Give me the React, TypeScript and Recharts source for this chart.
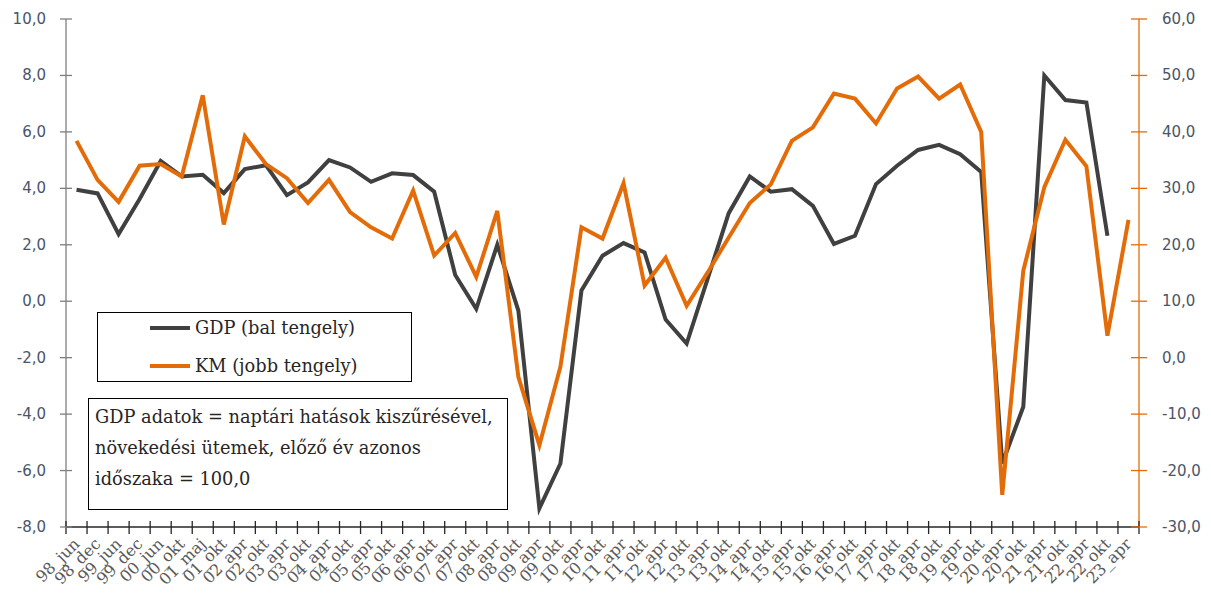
import React from 'react';
import { LineChart, Line, XAxis, YAxis } from 'recharts';

const labels = [
  '98_jun', '98_dec', '99_jun', '99_dec', '00_jun', '00_okt', '01_maj', '01_okt',
  '02_apr', '02_okt', '03_apr', '03_okt', '04_apr', '04_okt', '05_apr', '05_okt',
  '06_apr', '06_okt', '07_apr', '07_okt', '08_apr', '08_okt', '09_apr', '09_okt',
  '10_apr', '10_okt', '11_apr', '11_okt', '12_apr', '12_okt', '13_apr', '13_okt',
  '14_apr', '14_okt', '15_apr', '15_okt', '16_apr', '16_okt', '17_apr', '17_okt',
  '18_apr', '18_okt', '19_apr', '19_okt', '20_apr', '20_okt', '21_apr', '21_okt',
  '22_apr', '22_okt', '23_apr',
];

// GDP, left axis
const gdp: (number | null)[] = [
  3.95, 3.82, 2.38, 3.62, 4.97, 4.42, 4.48, 3.83, 4.68, 4.82, 3.76, 4.21, 5.0,
  4.74, 4.23, 4.53, 4.47, 3.88, 0.93, -0.27, 2.0, -0.33, -7.34, -5.75, 0.38, 1.61,
  2.06, 1.73, -0.65, -1.5, 0.8, 3.12, 4.42, 3.88, 3.97, 3.38, 2.03, 2.32, 4.15,
  4.8, 5.36, 5.54, 5.21, 4.58, -5.75, -3.74, 8.0, 7.13, 7.04, 2.32, null,
];

// KM, right axis
const km = [
  38.4, 31.5, 27.6, 34.0, 34.3, 32.1, 46.5, 23.6, 39.2, 34.3, 31.8, 27.4, 31.5,
  25.8, 23.1, 21.1, 29.6, 18.1, 22.1, 14.3, 26.0, -3.4, -15.5, -1.6, 23.1, 21.1,
  30.9, 12.8, 17.7, 9.2, 15.1, 21.3, 27.4, 30.7, 38.4, 40.8, 46.8, 45.9, 41.5,
  47.7, 49.8, 45.9, 48.4, 40.0, -24.3, 15.4, 30.2, 38.6, 33.9, 3.9, 24.4,
];

const leftTicks = [-8, -6, -4, -2, 0, 2, 4, 6, 8, 10];
const rightTicks = [-30, -20, -10, 0, 10, 20, 30, 40, 50, 60];

const noteLines = [
  'GDP adatok = naptári hatások kiszűrésével,',
  'növekedési ütemek, előző év azonos',
  'időszaka = 100,0',
];

const data = labels.map((label, i) => ({ label, gdp: gdp[i], km: km[i] }));

const W = 1211;
const H = 604;
const TOP = 19;
const LEFT_W = 66;
const RIGHT_W = 72;
const X_H = 77;
const PLOT_W = W - LEFT_W - RIGHT_W;
const BAND = PLOT_W / labels.length;

const GREY = '#404040';
const ORANGE = '#E36C09';
const AXIS_TEXT = '#4A5568';
const SERIF = '"DejaVu Serif", serif';

const fmt = (v: number) => v.toFixed(1).replace('.', ',');

const LeftTick = ({ x, y, payload }: any) => (
  <g>
    <line x1={x - 6} x2={x + 6} y1={y} y2={y} stroke="#7f7f7f" strokeWidth={1.3} />
    <text x={x - 20} y={y} dy={5} textAnchor="end" fill={AXIS_TEXT} fontSize={15} fontFamily="DejaVu Sans, sans-serif">
      {fmt(payload.value)}
    </text>
  </g>
);

const RightTick = ({ x, y, payload }: any) => (
  <g>
    <line x1={x - 8} x2={x + 8} y1={y} y2={y} stroke={ORANGE} strokeWidth={1.3} />
    <text x={x + 23} y={y} dy={5} textAnchor="start" fill={AXIS_TEXT} fontSize={15} fontFamily="DejaVu Sans, sans-serif">
      {fmt(payload.value)}
    </text>
  </g>
);

const BottomTick = ({ x, y, payload, index }: any) => {
  const left = x - BAND / 2;
  const isLast = index === labels.length - 1;
  return (
    <g>
      <line x1={left} x2={left} y1={y - 6} y2={y + 7} stroke="#262626" strokeWidth={1.3} />
      {isLast && (
        <line x1={x + BAND / 2} x2={x + BAND / 2} y1={y - 6} y2={y + 7} stroke="#262626" strokeWidth={1.3} />
      )}
      <text
        transform={`translate(${x + 4},${y + 18}) rotate(-45)`}
        textAnchor="end"
        fill="#595959"
        fontSize={16}
        fontFamily={SERIF}
      >
        {payload.value}
      </text>
    </g>
  );
};

export default function App() {
  return (
    <div style={{ position: 'absolute', left: 0, top: 0, width: W, height: H, background: '#fff' }}>
      <LineChart width={W} height={H} data={data} margin={{ top: TOP, right: 0, bottom: 0, left: 0 }}>
        <XAxis
          dataKey="label"
          interval={0}
          height={X_H}
          padding={{ left: BAND / 2, right: BAND / 2 }}
          tickSize={0}
          tickMargin={0}
          tickLine={false}
          axisLine={{ stroke: '#262626', strokeWidth: 1.5 }}
          tick={<BottomTick />}
        />
        <YAxis
          yAxisId="left"
          domain={[-8, 10]}
          ticks={leftTicks}
          width={LEFT_W}
          tickSize={0}
          tickMargin={0}
          tickLine={false}
          axisLine={{ stroke: '#7f7f7f', strokeWidth: 1.3 }}
          tick={<LeftTick />}
          allowDataOverflow
        />
        <YAxis
          yAxisId="right"
          orientation="right"
          domain={[-30, 60]}
          ticks={rightTicks}
          width={RIGHT_W}
          tickSize={0}
          tickMargin={0}
          tickLine={false}
          axisLine={{ stroke: ORANGE, strokeWidth: 1.3 }}
          tick={<RightTick />}
          allowDataOverflow
        />
        <Line
          yAxisId="left"
          dataKey="gdp"
          stroke={GREY}
          strokeWidth={4}
          dot={false}
          activeDot={false}
          isAnimationActive={false}
        />
        <Line
          yAxisId="right"
          dataKey="km"
          stroke={ORANGE}
          strokeWidth={4}
          dot={false}
          activeDot={false}
          isAnimationActive={false}
        />
      </LineChart>

      <div
        style={{
          position: 'absolute', left: 97, top: 312, width: 315, height: 70,
          border: '1.5px solid #000', background: '#fff', fontFamily: SERIF,
          fontSize: 17.8, color: '#262626', boxSizing: 'border-box',
        }}
      >
        {[
          { name: 'GDP (bal tengely)', color: GREY, top: 4 },
          { name: 'KM (jobb tengely)', color: ORANGE, top: 42 },
        ].map((it) => (
          <div key={it.name} style={{ position: 'absolute', left: 52, top: it.top, display: 'flex', alignItems: 'center', whiteSpace: 'nowrap' }}>
            <div style={{ width: 40, height: 4, background: it.color, marginRight: 5 }} />
            <span>{it.name}</span>
          </div>
        ))}
      </div>

      <div
        style={{
          position: 'absolute', left: 88, top: 398, width: 420, height: 112,
          border: '1.5px solid #000', background: '#fff', fontFamily: SERIF,
          fontSize: 17.8, color: '#262626', boxSizing: 'border-box',
          padding: '2px 6px', lineHeight: '31px', whiteSpace: 'nowrap',
        }}
      >
        {noteLines.map((l) => (
          <div key={l}>{l}</div>
        ))}
      </div>
    </div>
  );
}
